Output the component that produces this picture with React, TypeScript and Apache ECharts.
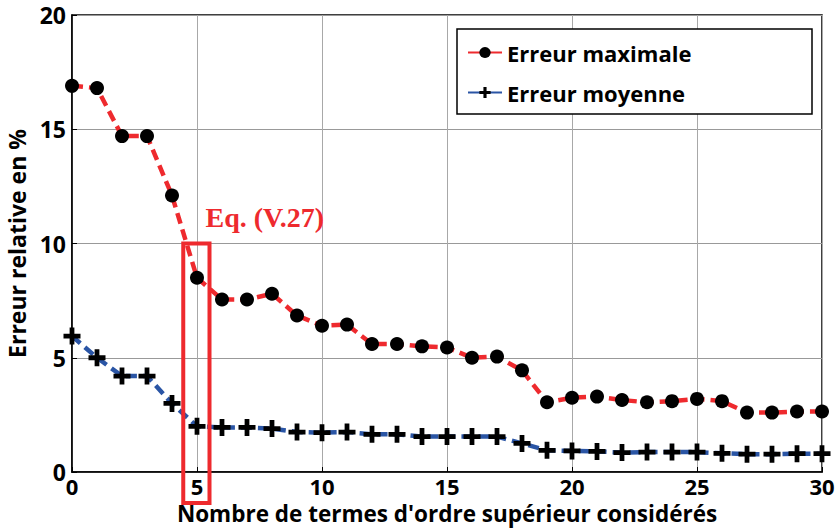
import React, { useEffect, useRef } from "react";
import * as echarts from "echarts";

const termCounts = Array.from({ length: 31 }, (_, i) => i);
const maxError = [16.9, 16.8, 14.7, 14.7, 12.1, 8.5, 7.55, 7.55, 7.8, 6.85, 6.4, 6.45, 5.6, 5.6, 5.5, 5.45, 5.0, 5.05, 4.45, 3.05, 3.25, 3.3, 3.15, 3.05, 3.1, 3.2, 3.1, 2.6, 2.6, 2.65, 2.65];
const meanError = [5.95, 5.0, 4.2, 4.2, 3.0, 2.0, 1.95, 1.95, 1.9, 1.75, 1.72, 1.75, 1.65, 1.65, 1.55, 1.55, 1.55, 1.55, 1.25, 0.95, 0.92, 0.9, 0.85, 0.87, 0.87, 0.87, 0.82, 0.78, 0.78, 0.8, 0.8];
const yTicks = [0, 5, 10, 15, 20];
const xTicks = [0, 5, 10, 15, 20, 25, 30];
const seriesNames = ["Erreur maximale", "Erreur moyenne"];
const annotation = { label: "Eq. (V.27)", xFrom: 4.45, xTo: 5.5, yTop: 10 };

const FONT = "'Open Sans', 'DejaVu Sans', sans-serif";
const PLUS = "path://M3.6,0H6.4V3.6H10V6.4H6.4V10H3.6V6.4H0V3.6H3.6Z";

export default function App() {
  const ref = useRef<HTMLDivElement>(null);
  useEffect(() => {
    if (!ref.current) return;
    const chart = echarts.init(ref.current, null, { renderer: "svg" });
    const option: any = {
      animation: false,
      backgroundColor: "#ffffff",
      grid: {
        left: 72,
        right: 16,
        top: 15,
        bottom: 57,
        show: true,
        borderColor: "#000",
        borderWidth: 1.5,
        containLabel: false,
        outerBoundsMode: "none",
      },
      legend: {
        orient: "vertical",
        left: 462,
        top: 34,
        itemWidth: 34,
        itemHeight: 14,
        itemGap: 13,
        data: seriesNames,
        textStyle: { fontFamily: FONT, fontWeight: "bold", fontSize: 22, color: "#000", lineHeight: 27 },
        lineStyle: { type: "solid" },
      },
      xAxis: {
        type: "value",
        min: 0,
        max: 30,
        interval: 5,
        name: "Nombre de termes d'ordre supérieur considérés",
        nameLocation: "middle",
        nameGap: 26,
        nameTextStyle: { fontFamily: FONT, fontWeight: "bold", fontSize: 22.5, color: "#000", lineHeight: 24 },
        axisLine: { lineStyle: { color: "#000", width: 1.5 } },
        axisTick: { inside: true, length: 5, lineStyle: { color: "#000" } },
        axisLabel: {
          fontFamily: FONT, fontWeight: "bold", fontSize: 22, color: "#000", margin: 3, lineHeight: 22,
          formatter: (v: number) => (xTicks.includes(v) ? String(v) : ""),
        },
        splitLine: { show: true, lineStyle: { color: "#a8a8a8", width: 1 } },
      },
      yAxis: {
        type: "value",
        min: 0,
        max: 20,
        interval: 5,
        name: "Erreur relative en %",
        nameLocation: "middle",
        nameGap: 39,
        nameTextStyle: { fontFamily: FONT, fontWeight: "bold", fontSize: 23, color: "#000" },
        axisLine: { show: true, lineStyle: { color: "#000", width: 1.5 } },
        axisTick: { show: true, inside: true, length: 5, lineStyle: { color: "#000" } },
        axisLabel: {
          fontFamily: FONT, fontWeight: "bold", fontSize: 23, color: "#000", margin: 6,
          formatter: (v: number) => (yTicks.includes(v) ? String(v) : ""),
        },
        splitLine: { show: true, lineStyle: { color: "#999", width: 1.2 } },
      },
      series: [
        {
          name: seriesNames[0],
          type: "line",
          data: termCounts.map((x, i) => [x, maxError[i]]),
          symbol: "circle",
          symbolSize: 14,
          itemStyle: { color: "#000" },
          lineStyle: { color: "#ee2a2e", width: 4.5, type: [11, 6] },
          z: 3,
        },
        {
          name: seriesNames[1],
          type: "line",
          data: termCounts.map((x, i) => [x, meanError[i]]),
          symbol: PLUS,
          symbolSize: 17,
          itemStyle: { color: "#000" },
          lineStyle: { color: "#2a55a5", width: 4.5, type: [11, 6] },
          z: 3,
        },
      ],
    };
    chart.setOption(option);

    const pTopLeft = chart.convertToPixel({ gridIndex: 0 }, [annotation.xFrom, annotation.yTop]) as number[];
    const pRight = chart.convertToPixel({ gridIndex: 0 }, [annotation.xTo, 0]) as number[];
    chart.setOption({
      graphic: [
        {
          type: "rect",
          shape: { x: 457, y: 29, width: 355, height: 85 },
          style: { fill: "#fff", stroke: "#000", lineWidth: 1.5 },
          z: 1,
          silent: true,
        },
        {
          type: "rect",
          shape: {
            x: pTopLeft[0],
            y: pTopLeft[1],
            width: pRight[0] - pTopLeft[0],
            height: pRight[1] - pTopLeft[1] + 31,
          },
          style: { fill: "none", stroke: "#ee2a2e", lineWidth: 4 },
          z: 10,
          silent: true,
        },
        {
          type: "text",
          x: pRight[0] - 4,
          y: pTopLeft[1] - 26,
          style: {
            text: annotation.label,
            fill: "#ee2a2e",
            font: "bold 28px 'Liberation Serif', 'DejaVu Serif', serif",
            textVerticalAlign: "middle",
          },
          z: 10,
          silent: true,
        },
      ],
    });
    return () => chart.dispose();
  }, []);
  return (
    <div
      ref={ref}
      style={{ position: "fixed", left: 0, top: 0, width: 838, height: 529, background: "#fff" }}
    />
  );
}
